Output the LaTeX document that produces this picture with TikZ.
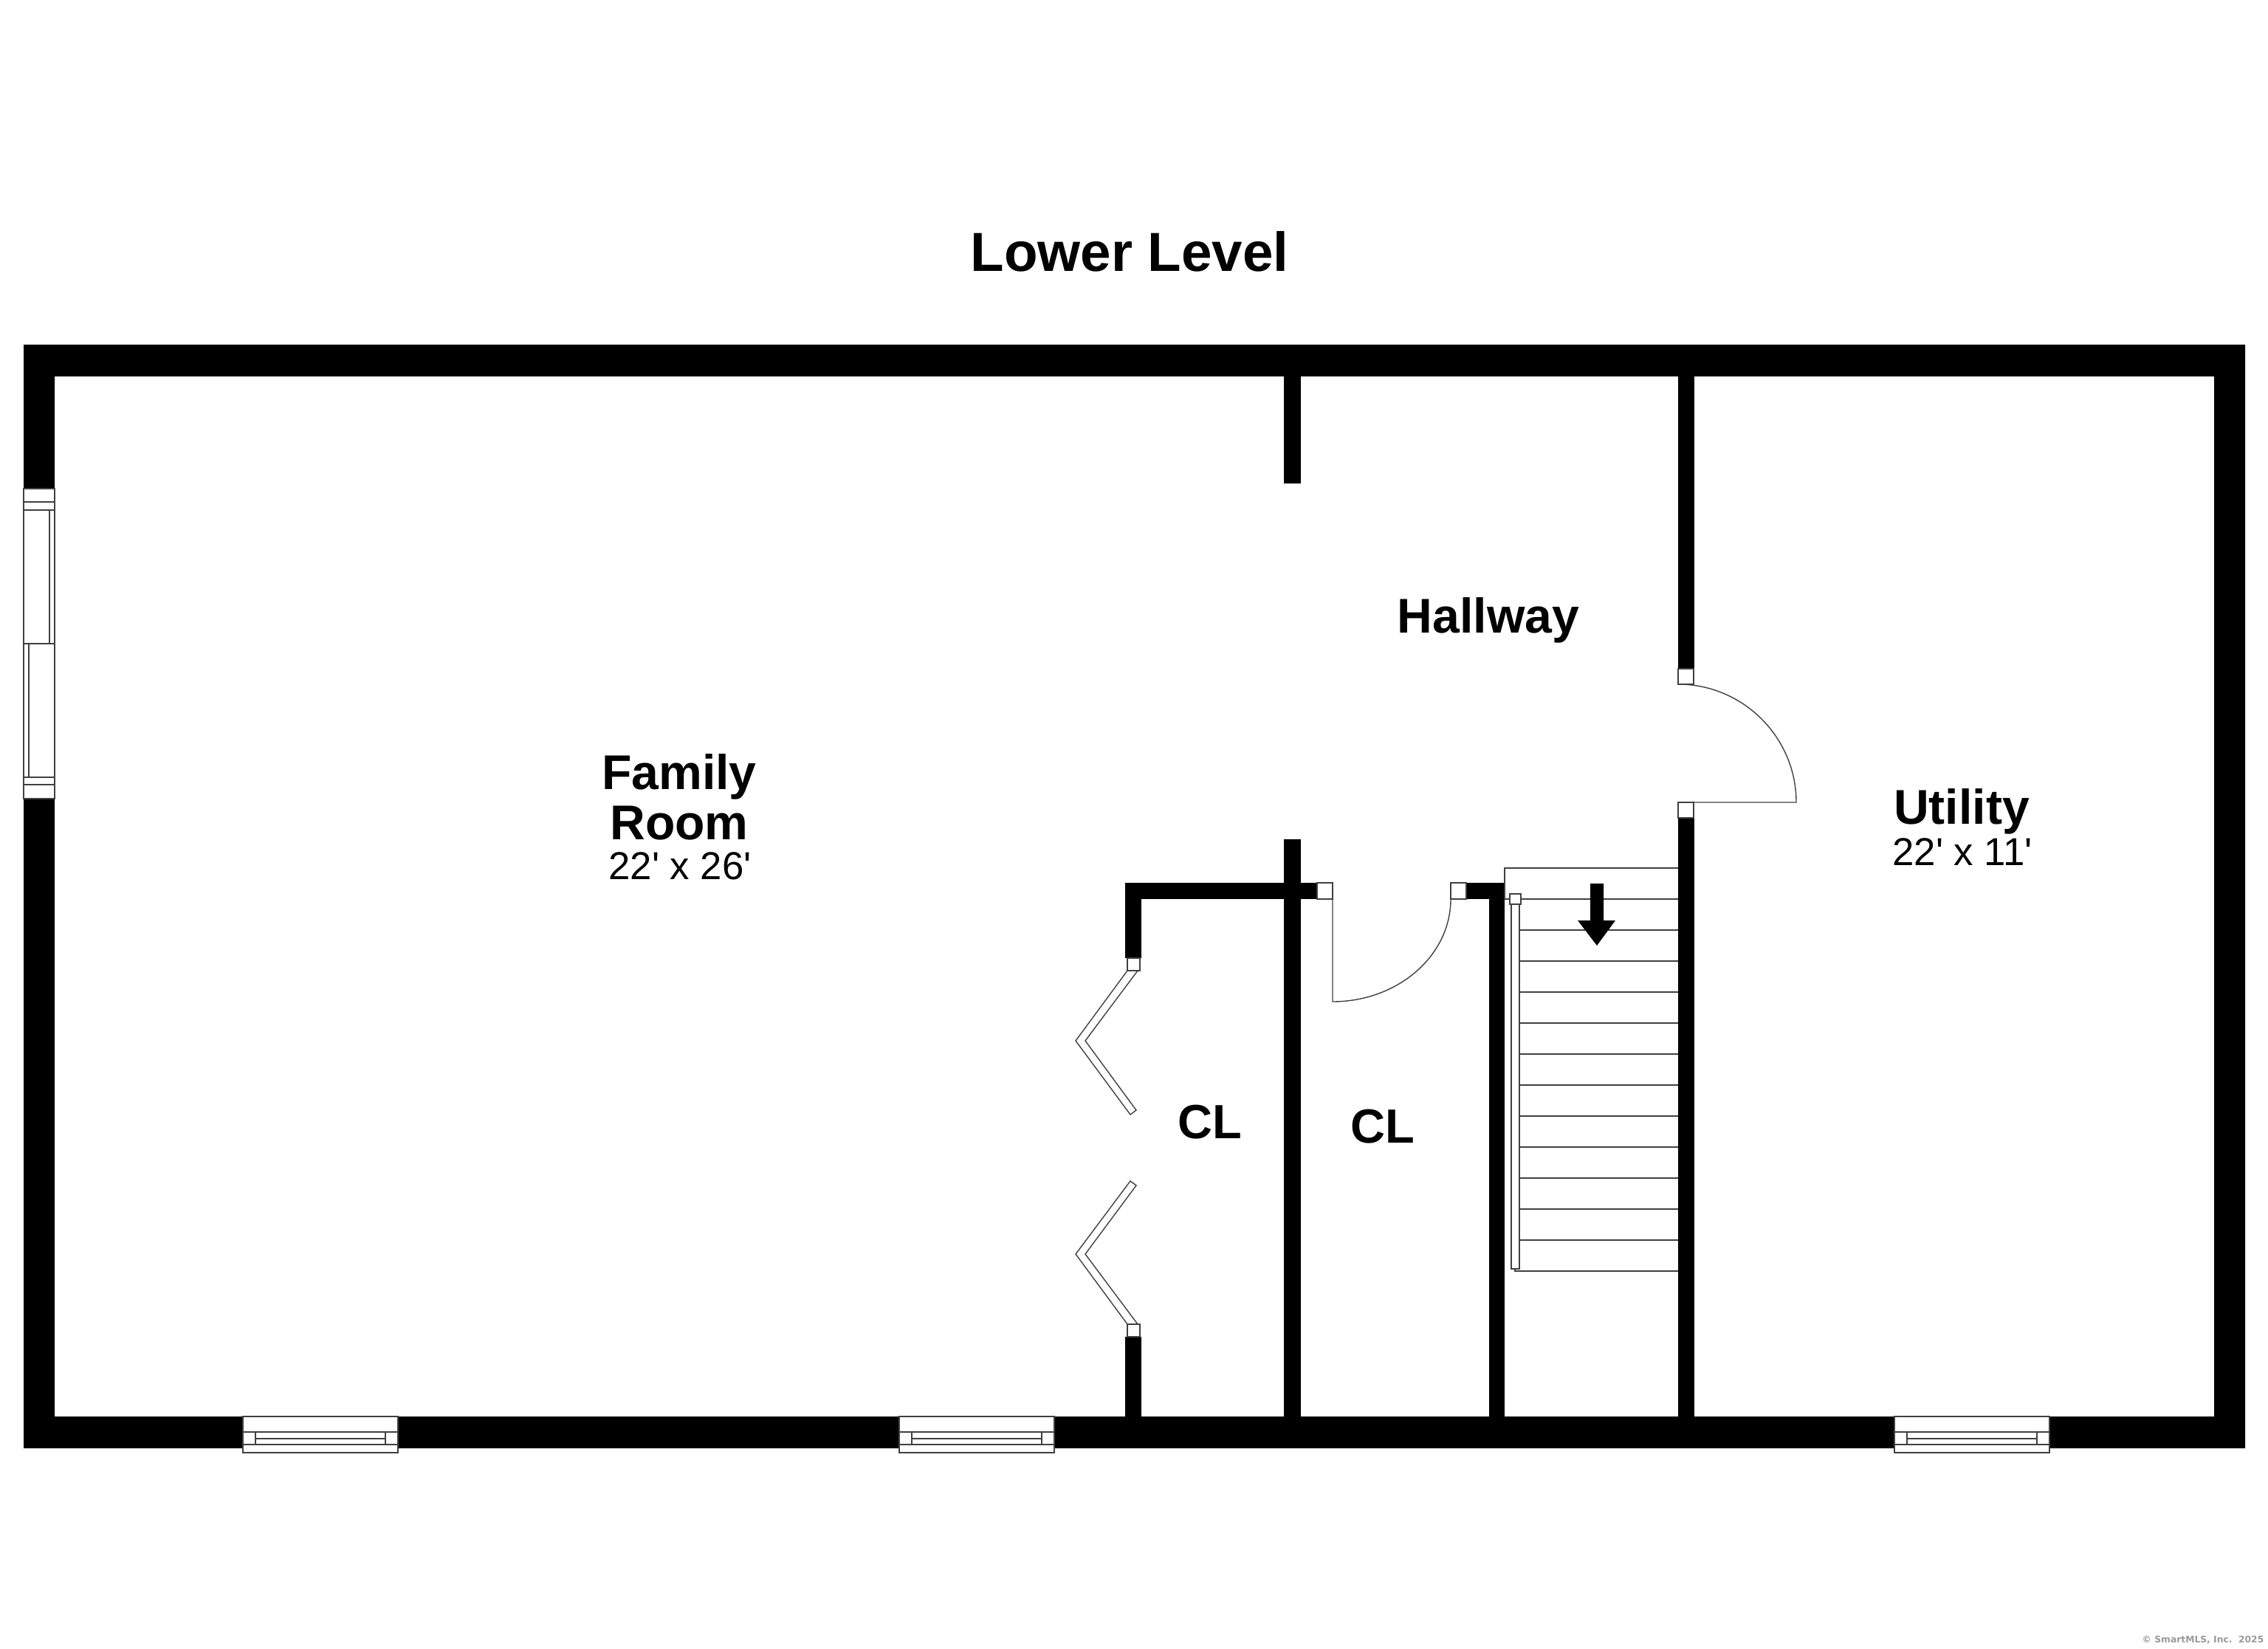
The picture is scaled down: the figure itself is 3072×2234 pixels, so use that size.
\documentclass[tikz,border=0pt]{standalone}
\usepackage{fontspec}
\setmainfont{Liberation Sans}
\newfontfamily\creditfont{DejaVu Sans}
\begin{document}
\begin{tikzpicture}
        [x=0.01cm,y=-0.01cm,
        wall/.style={fill=black,draw=none},
        edge/.style={draw=black!75,line width=0.4pt},
        opening/.style={edge,fill=white},
        bigname/.style={font=\fontsize{18.8}{18.8}\selectfont\bfseries,inner sep=0pt},
        closetname/.style={font=\fontsize{18.5}{18.5}\selectfont\bfseries,inner sep=0pt},
        sizename/.style={font=\fontsize{15}{15}\selectfont,inner sep=0pt},
        ]
        \useasboundingbox (0,0) rectangle (3072,2234);
        % Outer walls
        \fill[wall,even odd rule] (32,467) rectangle (3041,1962) (74,510) rectangle (2999,1919);
        % Inner walls
        \fill[wall] (1739,510) rectangle (1762,655);
        \fill[wall] (1739,1137) rectangle (1762,1919);
        \fill[wall] (1524,1196) rectangle (1784,1218);
        \fill[wall] (1524,1196) rectangle (1546,1298);
        \fill[wall] (1524,1811) rectangle (1546,1919);
        \fill[wall] (1986,1196) rectangle (2038,1218);
        \fill[wall] (2017,1196) rectangle (2038,1919);
        \fill[wall] (2273,510) rectangle (2295,906);
        \fill[wall] (2273,1108) rectangle (2295,1919);
        % Bottom windows
        \foreach \x in {329,1218,2566}{
            \draw[opening] (\x,1919) rectangle (\x+210,1968);
            \draw[edge] (\x,1940) -- (\x+210,1940);
            \draw[edge] (\x,1957) -- (\x+210,1957);
            \draw[edge] (\x+17,1940) rectangle (\x+193,1957);
            \draw[edge] (\x+17,1949) -- (\x+193,1949);
        }
        % Left window
        \draw[opening] (32,662) rectangle (74,1082);
        \draw[edge] (32,680) -- (74,680);
        \draw[edge] (32,691) -- (74,691);
        \draw[edge] (32,872) -- (74,872);
        \draw[edge] (32,1053) -- (74,1053);
        \draw[edge] (32,1063) -- (74,1063);
        \draw[edge] (67,691) -- (67,872);
        \draw[edge] (39,872) -- (39,1053);
        % Door jambs
        \draw[opening] (1527,1298) rectangle (1544,1315);
        \draw[opening] (1527,1794) rectangle (1544,1811);
        \draw[opening] (1784,1196) rectangle (1805,1218);
        \draw[opening] (1965,1196) rectangle (1986,1218);
        \draw[opening] (2273,906) rectangle (2294,927);
        \draw[opening] (2273,1087) rectangle (2294,1108);
        % Bifold doors
        \draw[edge] (1527,1315) -- (1457,1410) -- (1531,1510) -- (1539,1504) -- (1470,1410) -- (1541,1315);
        \draw[edge] (1527,1794) -- (1457,1699) -- (1531,1600) -- (1539,1606) -- (1470,1699) -- (1541,1794);
        % Swing doors
        \draw[edge] (1805,1218) -- (1805,1357) .. controls (1893,1357) and (1965,1295) .. (1965,1218);
        \draw[edge] (2294,1087) -- (2433,1087) .. controls (2433,999) and (2361,927) .. (2273,927);
        % Stairs
        \draw[edge] (2038,1218) -- (2038,1176) -- (2273,1176);
        \draw[edge] (2038,1218) -- (2273,1218);
        \foreach \y in {1260,1302,...,1680}{
            \draw[edge] (2058,\y) -- (2273,\y);
        }
        \draw[edge] (2052,1719) -- (2052,1722) -- (2273,1722);
        \draw[opening] (2047,1225) rectangle (2058,1719);
        \draw[opening] (2045,1211) rectangle (2060,1225);
        \fill[wall] (2154,1197) -- (2172,1197) -- (2172,1247) -- (2188,1247) -- (2163,1281) -- (2137,1247) -- (2154,1247) -- cycle;
        % Labels
        \node[font=\fontsize{21.2}{21.2}\selectfont\bfseries,inner sep=0pt] (title) at (1530,341) {Lower Level};
        \node[bigname] (family) at (920,1052) {Family};
        \node[bigname] (room) at (920,1115) {Room};
        \node[sizename] (familysize) at (921,1173) {22\textquotesingle{} x 26\textquotesingle};
        \node[bigname] (hallway) at (2016,840) {Hallway};
        \node[closetname] (closeta) at (1639,1520) {CL};
        \node[closetname] (closetb) at (1873,1526) {CL};
        \node[bigname] (utility) at (2657,1099) {Utility};
        \node[sizename] (utilitysize) at (2658,1154) {22\textquotesingle{} x 11\textquotesingle};
        \node[font=\creditfont\fontsize{3.5}{3.5}\selectfont\bfseries,text=black!40,inner sep=0pt,anchor=east] (credit) at (3067,2222) {© SmartMLS, Inc.\ \ 2025};
\end{tikzpicture}
\end{document}
